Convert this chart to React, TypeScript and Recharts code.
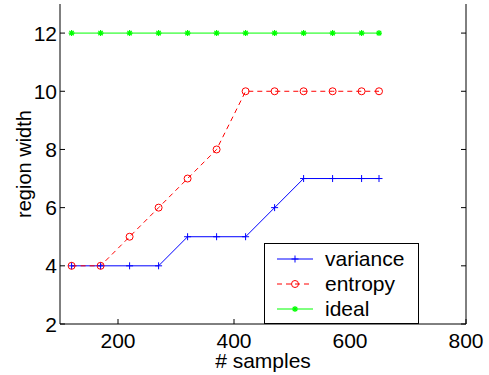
import React from 'react';
import { LineChart, Line, XAxis, YAxis, Legend, Label } from 'recharts';

const sampleCounts = [120, 170, 220, 270, 320, 370, 420, 470, 520, 570, 620, 650];
const varianceWidth = [4, 4, 4, 4, 5, 5, 5, 6, 7, 7, 7, 7];
const entropyWidth = [4, 4, 5, 6, 7, 8, 10, 10, 10, 10, 10, 10];
const idealWidth = [12, 12, 12, 12, 12, 12, 12, 12, 12, 12, 12, 12];
const seriesOrder = ['variance', 'entropy', 'ideal'];
const xTicks = [200, 400, 600, 800];
const yTicks = [2, 4, 6, 8, 10, 12];

const rows = sampleCounts.map((n, i) => ({
    n,
    variance: varianceWidth[i],
    entropy: entropyWidth[i],
    ideal: idealWidth[i],
}));

const FONT = '"Liberation Sans", Arial, Helvetica, sans-serif';
const TICK_LEN = 5;

// markers in matlab style
const PlusMark = ({ cx, cy, color }: any) => (
    <path d={`M${cx - 3.5},${cy}h7M${cx},${cy - 3.5}v7`} stroke={color} strokeWidth={1} fill="none" />
);
const CircleMark = ({ cx, cy, color }: any) => (
    <circle cx={cx} cy={cy} r={3.5} stroke={color} strokeWidth={1} fill="none" />
);
const StarMark = ({ cx, cy, color }: any) => (
    <path
        d={`M${cx - 3},${cy}h6M${cx},${cy - 3}v6M${cx - 2.2},${cy - 2.2}l4.4,4.4M${cx - 2.2},${cy + 2.2}l4.4,-4.4`}
        stroke={color}
        strokeWidth={1.2}
        fill="none"
    />
);

const markers: Record<string, any> = { variance: PlusMark, entropy: CircleMark, ideal: StarMark };

const dotFor = (key: string, color: string) => (p: any) => {
    const M = markers[key];
    if (p.cx == null || p.cy == null) return <g key={p.key} />;
    return <M key={p.key} cx={p.cx} cy={p.cy} color={color} />;
};

// tick: inward line + optional label outside
const makeTick = (side: 'bottom' | 'top' | 'left' | 'right', withLabel: boolean) => (p: any) => {
    const { x, y, payload } = p;
    let line;
    if (side === 'bottom') line = <line x1={x} y1={y} x2={x} y2={y - TICK_LEN} stroke="#000" />;
    else if (side === 'top') line = <line x1={x} y1={y} x2={x} y2={y + TICK_LEN} stroke="#000" />;
    else if (side === 'left') line = <line x1={x} y1={y} x2={x + TICK_LEN} y2={y} stroke="#000" />;
    else line = <line x1={x} y1={y} x2={x - TICK_LEN} y2={y} stroke="#000" />;
    return (
        <g>
            {line}
            {withLabel && side === 'bottom' && (
                <text x={x} y={y + 24} textAnchor="middle" fontSize={21} fontFamily={FONT} fill="#000">
                    {payload.value}
                </text>
            )}
            {withLabel && side === 'left' && (
                <text x={x - 3} y={y + 7.5} textAnchor="end" fontSize={21} fontFamily={FONT} fill="#000">
                    {payload.value}
                </text>
            )}
        </g>
    );
};

const YTitle = (props: any) => {
    const vb = props.viewBox;
    const cx = vb.x + 24;
    const cy = vb.y + vb.height / 2;
    return (
        <text
            x={cx}
            y={cy}
            transform={`rotate(-90 ${cx} ${cy})`}
            textAnchor="middle"
            dominantBaseline="central"
            fontSize={20}
            fontFamily={FONT}
            fill="#000"
        >
            region width
        </text>
    );
};

const LegendBox = (props: any) => {
    const items = [...(props.payload || [])].sort(
        (a: any, b: any) => seriesOrder.indexOf(a.dataKey) - seriesOrder.indexOf(b.dataKey)
    );
    return (
        <div
            style={{
                border: '1px solid #000',
                background: '#fff',
                width: 153,
                height: 77,
                paddingTop: 2,
                boxSizing: 'content-box',
                fontFamily: FONT,
                fontSize: 21,
            }}
        >
            {items.map((it: any) => {
                const M = markers[it.dataKey];
                return (
                    <div key={it.dataKey} style={{ display: 'flex', alignItems: 'center', height: 25 }}>
                        <svg width={36} height={12} style={{ marginLeft: 12, marginRight: 12 }}>
                            <line
                                x1={0}
                                y1={6}
                                x2={36}
                                y2={6}
                                stroke={it.color}
                                strokeWidth={1}
                                strokeDasharray={it.dataKey === 'entropy' ? '5 4' : undefined}
                            />
                            <M cx={18} cy={6} color={it.color} />
                        </svg>
                        <span style={{ lineHeight: '25px', color: '#000' }}>{it.value}</span>
                    </div>
                );
            })}
        </div>
    );
};

export default function App() {
    return (
        <div style={{ position: 'fixed', left: 0, top: 0, width: 489, height: 375, background: '#fff' }}>
            <LineChart width={489} height={375} data={rows} margin={{ top: 4, right: 0, bottom: 0, left: 0 }}>
                <XAxis
                    xAxisId="b"
                    dataKey="n"
                    type="number"
                    domain={[100, 800]}
                    ticks={xTicks}
                    interval={0}
                    height={51}
                    tickSize={0}
                    tickMargin={0}
                    tickLine={false}
                    axisLine={{ stroke: '#000' }}
                    tick={makeTick('bottom', true)}
                >
                    <Label value="# samples" position="insideBottom" offset={7} fontSize={21} fontFamily={FONT} fill="#000" />
                </XAxis>
                <XAxis
                    xAxisId="t"
                    dataKey="n"
                    type="number"
                    orientation="top"
                    domain={[100, 800]}
                    ticks={xTicks}
                    interval={0}
                    height={0}
                    tickSize={0}
                    tickMargin={0}
                    tickLine={false}
                    axisLine={{ stroke: '#000' }}
                    tick={makeTick('top', false)}
                />
                <YAxis
                    yAxisId="l"
                    type="number"
                    domain={[2, 13]}
                    ticks={yTicks}
                    interval={0}
                    width={60}
                    tickSize={0}
                    tickMargin={0}
                    tickLine={false}
                    axisLine={{ stroke: '#000' }}
                    tick={makeTick('left', true)}
                    allowDataOverflow
                >
                    <Label content={<YTitle />} />
                </YAxis>
                <YAxis
                    yAxisId="r"
                    orientation="right"
                    type="number"
                    domain={[2, 13]}
                    ticks={yTicks}
                    interval={0}
                    width={23}
                    tickSize={0}
                    tickMargin={0}
                    tickLine={false}
                    axisLine={{ stroke: '#000' }}
                    tick={makeTick('right', false)}
                    allowDataOverflow
                />
                <Legend
                    layout="vertical"
                    align="center"
                    verticalAlign="middle"
                    content={<LegendBox />}
                    wrapperStyle={{ left: 264, top: 243, width: 155, height: 80 }}
                />
                <Line
                    xAxisId="b"
                    yAxisId="l"
                    dataKey="variance"
                    name="variance"
                    stroke="#0000ff"
                    strokeWidth={1}
                    dot={dotFor('variance', '#0000ff')}
                    activeDot={false}
                    isAnimationActive={false}
                />
                <Line
                    xAxisId="b"
                    yAxisId="l"
                    dataKey="entropy"
                    name="entropy"
                    stroke="#ff0000"
                    strokeWidth={1}
                    strokeDasharray="5 4"
                    dot={dotFor('entropy', '#ff0000')}
                    activeDot={false}
                    isAnimationActive={false}
                />
                <Line
                    xAxisId="b"
                    yAxisId="l"
                    dataKey="ideal"
                    name="ideal"
                    stroke="#00ff00"
                    strokeWidth={1}
                    dot={dotFor('ideal', '#00ff00')}
                    activeDot={false}
                    isAnimationActive={false}
                />
            </LineChart>
        </div>
    );
}
